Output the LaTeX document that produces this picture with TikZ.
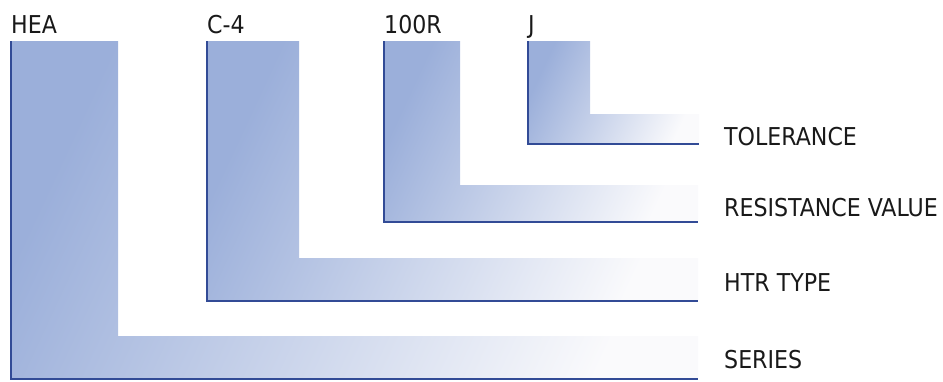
\documentclass[tikz,border=0pt]{standalone}
\usepackage{fontspec}
\setmainfont{DejaVu Sans Condensed}
\definecolor{topblue}{RGB}{155,175,218}
\definecolor{midlav}{RGB}{205,205,230}
\definecolor{endwhite}{RGB}{250,250,252}
\definecolor{edgeblue}{RGB}{50,75,150}
\tikzset{
  lshape/.style={shade, top color=topblue, middle color=midlav, bottom color=endwhite, shading angle=65},
  edge/.style={draw=edgeblue, line width=1.3pt},
  lbl/.style={anchor=base west, inner sep=0pt, font=\fontsize{24.6}{27}\selectfont, text=black!90}
}
\begin{document}
\begin{tikzpicture}[x=1pt,y=-1pt]
\useasboundingbox (0,0) rectangle (943,381);
% L-shapes
\path[lshape] (11,41) -- (118,41) -- (118,336) -- (698,336) -- (698,379) -- (11,379) -- cycle;
\path[lshape] (207,41) -- (299,41) -- (299,258) -- (698,258) -- (698,301) -- (207,301) -- cycle;
\path[lshape] (384,41) -- (460,41) -- (460,185) -- (698,185) -- (698,222) -- (384,222) -- cycle;
\path[lshape] (528,41) -- (590,41) -- (590,114) -- (699,114) -- (699,144) -- (528,144) -- cycle;
% edges
\draw[edge] (11,41) -- (11,379) -- (698,379);
\draw[edge] (207,41) -- (207,301) -- (698,301);
\draw[edge] (384,41) -- (384,222) -- (698,222);
\draw[edge] (528,41) -- (528,144) -- (699,144);
% top labels
\node[lbl] (hea) at (11,33) {HEA};
\node[lbl] (c4) at (207,33) {C-4};
\node[lbl] (r100) at (384,33) {100R};
\node[lbl] (j) at (528,33) {J};
% right labels
\node[lbl] (tol) at (724,145.5) {TOLERANCE};
\node[lbl] (res) at (724,216.7) {RESISTANCE VALUE};
\node[lbl] (htr) at (724,291.7) {HTR TYPE};
\node[lbl] (ser) at (724,368) {SERIES};
\end{tikzpicture}
\end{document}
